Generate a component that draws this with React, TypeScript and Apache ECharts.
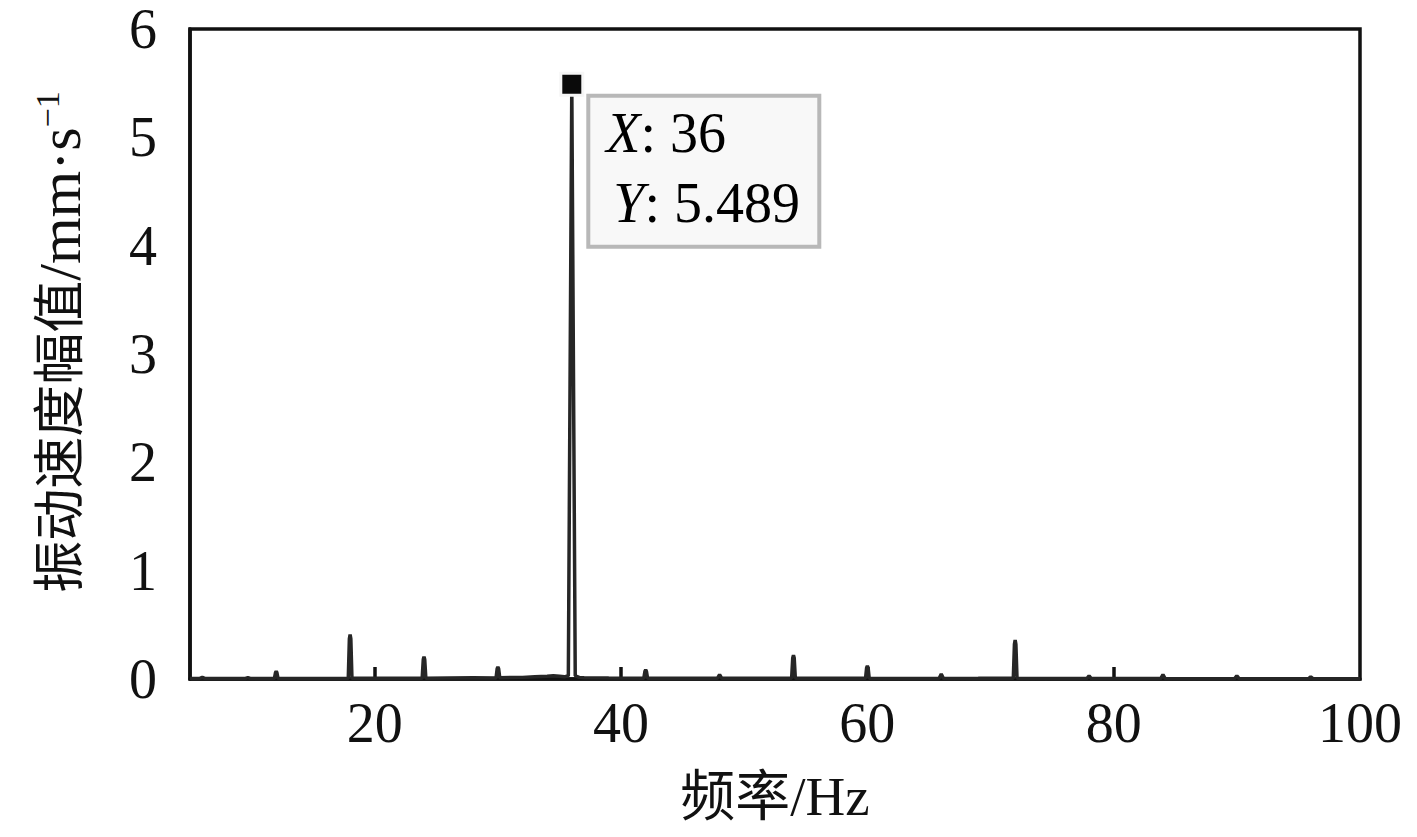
import React, { useEffect, useRef } from "react";
import * as echarts from "echarts";

// Spectrum samples (frequency in Hz, amplitude in mm/s)
const freqHz = [
  5, 5.8, 6, 6.2, 9.5, 9.7, 9.9,
  11.85, 11.94, 12, 12.06, 12.15,
  17.85, 17.94, 18, 18.06, 18.15,
  23.85, 23.94, 24, 24.06, 24.15,
  26, 28,
  29.85, 29.94, 30, 30.06, 30.15,
  32, 33, 34, 34.5, 35, 35.4,
  35.72, 36, 36.28,
  36.6, 37, 39,
  41.85, 41.94, 42, 42.06, 42.15,
  45, 47.82, 48, 48.18, 51,
  53.85, 53.94, 54, 54.06, 54.15,
  57,
  59.85, 59.94, 60, 60.06, 60.15,
  63, 65.82, 66, 66.18, 69,
  71.85, 71.94, 72, 72.06, 72.15,
  75, 77.82, 78, 78.18, 81, 83.82, 84, 84.18, 87, 89.82, 90, 90.18, 93, 95.82, 96, 96.18, 100,
];
const amplitude = [
  0.005, 0.005, 0.015, 0.005, 0.005, 0.012, 0.005,
  0.004, 0.058, 0.07, 0.058, 0.004,
  0.005, 0.37, 0.41, 0.37, 0.006,
  0.006, 0.18, 0.205, 0.18, 0.007,
  0.01, 0.012,
  0.01, 0.095, 0.11, 0.095, 0.012,
  0.015, 0.02, 0.025, 0.03, 0.025, 0.02,
  0.03, 5.489, 0.03,
  0.015, 0.012, 0.01,
  0.008, 0.072, 0.085, 0.072, 0.008,
  0.008, 0.006, 0.04, 0.006, 0.008,
  0.008, 0.195, 0.22, 0.195, 0.008,
  0.006,
  0.006, 0.105, 0.12, 0.105, 0.006,
  0.005, 0.005, 0.045, 0.005, 0.006,
  0.008, 0.32, 0.36, 0.32, 0.008,
  0.005, 0.004, 0.03, 0.004, 0.004, 0.004, 0.04, 0.004, 0.003, 0.003, 0.03, 0.003, 0.003, 0.003, 0.02, 0.003, 0.003,
];

const peakPoint = [36, 5.489];
const xTicks = [20, 40, 60, 80, 100];
const yTicks = [0, 1, 2, 3, 4, 5, 6];

const SERIF = "'Liberation Serif', 'Times New Roman', 'Noto Sans CJK SC', serif";

export default function App() {
  const ref = useRef<HTMLDivElement>(null);
  useEffect(() => {
    document.body.style.margin = "0";
    const chart = echarts.init(ref.current!, null, { renderer: "svg" });
    const data = freqHz.map((f, i) => [f, amplitude[i]]);
    chart.setOption({
      animation: false,
      backgroundColor: "#ffffff",
      grid: {
        left: 190,
        top: 29,
        width: 1170,
        height: 650,
        show: true,
        borderColor: "#111",
        borderWidth: 3.5,
        backgroundColor: "transparent",
      },
      xAxis: {
        type: "value",
        min: 5,
        max: 100,
        name: "频率/Hz",
        nameLocation: "middle",
        nameGap: 90,
        nameTextStyle: { fontFamily: SERIF, fontSize: 55, color: "#111" },
        axisLine: { show: true, lineStyle: { color: "#111", width: 3.5 } },
        axisTick: {
          show: true,
          inside: true,
          length: 12,
          customValues: xTicks.slice(0, 4),
          lineStyle: { color: "#111", width: 3.5 },
        },
        axisLabel: {
          customValues: xTicks,
          fontFamily: SERIF,
          fontSize: 56,
          color: "#111",
          margin: 16,
        },
        splitLine: { show: false },
      },
      yAxis: {
        type: "value",
        min: 0,
        max: 6,
        interval: 1,
        name: "{a|振动速度幅值}{b|/mm·s}{sup|−1}",
        nameLocation: "middle",
        nameRotate: 90,
        nameGap: 100,
        nameTextStyle: {
          fontFamily: SERIF,
          fontSize: 52,
          color: "#111",
          padding: [0, 0, 0, 24],
          rich: {
            a: { fontFamily: SERIF, fontSize: 52, color: "#111", lineHeight: 60 },
            b: { fontFamily: SERIF, fontSize: 60, color: "#111", lineHeight: 60 },
            sup: {
              fontFamily: SERIF,
              fontSize: 34,
              color: "#111",
              verticalAlign: "top",
              lineHeight: 34,
            },
          },
        },
        axisLine: { show: true, lineStyle: { color: "#111", width: 3.5 } },
        axisTick: { show: false },
        axisLabel: {
          customValues: yTicks,
          fontFamily: SERIF,
          fontSize: 56,
          lineHeight: 40,
          color: "#111",
          margin: 33,
        },
        splitLine: { show: false },
      },
      series: [
        {
          type: "line",
          data,
          showSymbol: false,
          symbol: "none",
          lineStyle: { color: "#262626", width: 3.5 },
          z: 2,
        },
        {
          type: "scatter",
          data: [peakPoint],
          symbol: "rect",
          symbolSize: 22,
          itemStyle: { color: "#0a0a0a", opacity: 1, borderColor: "#f6f6f6", borderWidth: 3 },
          z: 5,
          label: {
            show: true,
            position: [31, 26],
            formatter: "{ix|X}{t|: 36}\n{iy|Y}{t|: 5.489}",
            backgroundColor: "#f8f8f8",
            borderColor: "#b8b8b8",
            borderWidth: 4,
            padding: [0, 0, 0, 16],
            width: 211,
            height: 147,
            align: "left",
            verticalAlign: "top",
            opacity: 1,
            rich: {
              ix: { fontFamily: SERIF, fontSize: 56, fontStyle: "italic", color: "#000", lineHeight: 70 },
              iy: {
                fontFamily: SERIF,
                fontSize: 56,
                fontStyle: "italic",
                color: "#000",
                lineHeight: 70,
                padding: [0, 0, 0, 7],
              },
              t: { fontFamily: SERIF, fontSize: 56, color: "#000", lineHeight: 70 },
            },
          },
        },
      ],
    });
    return () => chart.dispose();
  }, []);
  return (
    <div
      ref={ref}
      style={{ position: "fixed", left: 0, top: 0, width: 1417, height: 837 }}
    />
  );
}
